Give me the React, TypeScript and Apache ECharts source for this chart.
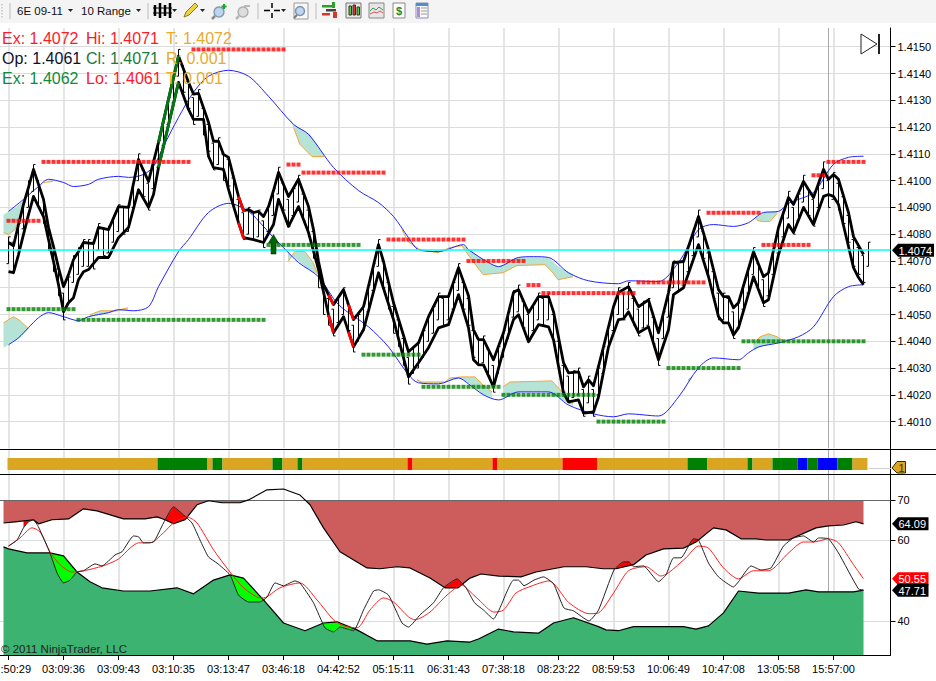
import React, { useEffect, useRef } from "react";
import * as echarts from "echarts";

type Pt = [number, number];

const timeLabels = [":50:29","03:09:36","03:09:43","03:10:35","03:13:47","03:46:18","04:42:52","05:15:11","06:31:43","07:38:18","08:23:22","08:59:53","10:06:49","10:47:08","13:05:58","15:57:00"];
const timeTicks = [0,11,22,33,44,55,66,77,88,99,110,121,132,143,154,165];
const priceTicks = [1.401,1.402,1.403,1.404,1.405,1.406,1.407,1.408,1.409,1.41,1.411,1.412,1.413,1.414,1.415];
const oscTicks = [40,60,70];
const lastPrice = 1.4074;
const cursorBar = 164;

const barHighs = [
1.4079,1.4077,1.4084,1.4092,1.4100,1.4106,1.4100,1.4094,1.4084,1.4076,
1.4067,1.4058,1.4064,1.4072,1.4075,1.4078,1.4078,1.4077,1.4084,1.4082,
1.4083,1.4087,1.4091,1.4090,1.4091,1.4100,1.4110,1.4104,1.4099,1.4107,
1.4115,1.4123,1.4131,1.4139,1.4149,1.4143,1.4137,1.4131,1.4134,1.4127,
1.4121,1.4114,1.4116,1.4110,1.4108,1.4101,1.4093,1.4088,1.4090,1.4088,
1.4089,1.4085,1.4091,1.4097,1.4105,1.4099,1.4093,1.4097,1.4102,1.4095,
1.4089,1.4081,1.4070,1.4060,1.4056,1.4052,1.4057,1.4060,1.4054,1.4046,
1.4050,1.4054,1.4061,1.4069,1.4078,1.4070,1.4062,1.4053,1.4048,1.4041,
1.4034,1.4038,1.4040,1.4044,1.4050,1.4053,1.4058,1.4056,1.4058,1.4062,
1.4069,1.4062,1.4056,1.4044,1.4041,1.4042,1.4037,1.4031,1.4038,1.4044,
1.4051,1.4059,1.4061,1.4055,1.4050,1.4054,1.4058,1.4056,1.4058,1.4050,
1.4040,1.4031,1.4027,1.4029,1.4030,1.4022,1.4027,1.4022,1.4030,1.4038,
1.4046,1.4054,1.4060,1.4058,1.4062,1.4056,1.4052,1.4055,1.4056,1.4049,
1.4041,1.4051,1.4059,1.4070,1.4069,1.4071,1.4076,1.4082,1.4089,1.4081,
1.4073,1.4066,1.4058,1.4058,1.4056,1.4051,1.4055,1.4062,1.4068,1.4075,
1.4069,1.4063,1.4067,1.4075,1.4083,1.4089,1.4096,1.4090,1.4095,1.4102,
1.4097,1.4093,1.4100,1.4107,1.4100,1.4103,1.4099,1.4094,1.4087,1.4078,
1.4075,1.4072,1.4077];
const barLows = [
1.4069,1.4067,1.4074,1.4082,1.4090,1.4096,1.4090,1.4084,1.4074,1.4066,
1.4057,1.4048,1.4054,1.4062,1.4065,1.4068,1.4068,1.4067,1.4074,1.4072,
1.4073,1.4077,1.4081,1.4080,1.4081,1.4090,1.4100,1.4094,1.4089,1.4097,
1.4105,1.4113,1.4121,1.4129,1.4139,1.4133,1.4127,1.4121,1.4124,1.4117,
1.4111,1.4104,1.4106,1.4100,1.4098,1.4091,1.4083,1.4078,1.4080,1.4078,
1.4079,1.4075,1.4081,1.4087,1.4095,1.4089,1.4083,1.4087,1.4092,1.4085,
1.4079,1.4071,1.4060,1.4050,1.4046,1.4042,1.4047,1.4050,1.4044,1.4036,
1.4040,1.4044,1.4051,1.4059,1.4068,1.4060,1.4052,1.4043,1.4038,1.4031,
1.4024,1.4028,1.4030,1.4034,1.4040,1.4043,1.4048,1.4046,1.4048,1.4052,
1.4059,1.4052,1.4046,1.4034,1.4031,1.4032,1.4027,1.4021,1.4028,1.4034,
1.4041,1.4049,1.4051,1.4045,1.4040,1.4044,1.4048,1.4046,1.4048,1.4040,
1.4030,1.4021,1.4017,1.4019,1.4020,1.4012,1.4017,1.4012,1.4020,1.4028,
1.4036,1.4044,1.4050,1.4048,1.4052,1.4046,1.4042,1.4045,1.4046,1.4039,
1.4031,1.4041,1.4049,1.4060,1.4059,1.4061,1.4066,1.4072,1.4079,1.4071,
1.4063,1.4056,1.4048,1.4048,1.4046,1.4041,1.4045,1.4052,1.4058,1.4065,
1.4059,1.4053,1.4057,1.4065,1.4073,1.4079,1.4086,1.4080,1.4085,1.4092,
1.4087,1.4083,1.4090,1.4097,1.4090,1.4093,1.4089,1.4084,1.4077,1.4068,
1.4065,1.4062,1.4068];

const upperEnvelope: Pt[] = [[0,1.40769],[1,1.40757],[2,1.40836],[3,1.40911],[4,1.40975],[5,1.41042],[6,1.40986],[7,1.4093],[8,1.40825],[9,1.40754],[10,1.40675],[11,1.40604],[12,1.40649],[13,1.40705],[14,1.40735],[15,1.40769],[17,1.40765],[18,1.40825],[20,1.40817],[22,1.40903],[24,1.409],[26,1.41079],[28,1.40997],[30,1.41143],[34,1.41465],[36,1.41367],[37,1.41323],[38,1.41326],[40,1.41218],[41,1.41147],[42,1.41147],[43,1.41098],[44,1.41087],[46,1.40941],[47,1.40888],[48,1.40892],[49,1.40881],[50,1.40885],[51,1.40866],[52,1.40903],[53,1.40963],[54,1.41031],[56,1.40941],[58,1.41005],[60,1.40903],[61,1.40817],[62,1.40698],[63,1.40611],[65,1.40537],[67,1.40593],[69,1.40481],[71,1.40529],[74,1.40761],[75,1.40698],[77,1.40544],[80,1.40361],[82,1.40394],[84,1.40492],[86,1.40567],[88,1.40567],[90,1.40675],[92,1.4057],[93,1.40443],[94,1.40406],[95,1.40406],[97,1.40331],[99,1.40432],[101,1.40582],[102,1.40593],[104,1.40507],[106,1.40567],[108,1.40567],[109,1.4051],[111,1.4032],[112,1.40282],[114,1.40286],[115,1.4023],[116,1.40256],[117,1.40234],[119,1.40379],[121,1.40529],[122,1.40582],[124,1.40604],[126,1.40529],[128,1.40555],[130,1.40432],[132,1.40582],[133,1.40694],[135,1.40698],[138,1.40866],[140,1.40742],[142,1.40593],[143,1.40567],[144,1.40567],[145,1.40525],[146,1.40544],[149,1.40735],[151,1.40641],[152,1.40656],[154,1.40825],[156,1.40937],[157,1.40911],[159,1.40997],[161,1.40937],[163,1.41042],[164,1.41005],[165,1.41023],[166,1.41005],[168,1.40881],[169,1.40791],[171,1.40724]];

const lowerEnvelope: Pt[] = [[0,1.4066],[1,1.40656],[2,1.40724],[3,1.40799],[4,1.40873],[5,1.40941],[6,1.40903],[7,1.40866],[8,1.4078],[9,1.40698],[10,1.40611],[11,1.4051],[12,1.40544],[13,1.40563],[14,1.4063],[15,1.4066],[16,1.40668],[18,1.40713],[20,1.40713],[22,1.40787],[24,1.40825],[26,1.40966],[28,1.409],[29,1.40948],[30,1.41049],[34,1.41367],[36,1.41266],[37,1.41229],[39,1.41229],[40,1.41091],[41,1.41049],[43,1.41042],[44,1.40967],[46,1.40843],[47,1.40787],[49,1.4078],[51,1.40769],[53,1.40836],[54,1.4093],[56,1.40829],[58,1.40903],[60,1.40806],[62,1.40668],[64,1.40499],[65,1.40432],[67,1.40492],[69,1.40379],[71,1.40443],[74,1.40656],[77,1.40481],[80,1.40267],[82,1.4032],[84,1.40376],[86,1.4045],[88,1.40462],[90,1.40574],[92,1.4045],[93,1.40331],[94,1.40312],[95,1.40312],[97,1.4023],[99,1.40368],[101,1.40481],[102,1.40499],[104,1.40398],[106,1.40462],[108,1.40454],[109,1.40406],[111,1.40207],[112,1.40174],[114,1.40181],[115,1.40132],[117,1.40136],[118,1.40192],[120,1.40379],[122,1.40481],[123,1.40484],[124,1.4051],[126,1.40432],[128,1.40454],[130,1.40331],[132,1.40443],[133,1.40574],[135,1.406],[138,1.40761],[140,1.40641],[142,1.40492],[143,1.40469],[144,1.40469],[145,1.40424],[146,1.4045],[149,1.40641],[151,1.40544],[152,1.40555],[154,1.40724],[156,1.40836],[157,1.40806],[159,1.409],[161,1.40836],[163,1.40941],[164,1.40948],[165,1.40941],[166,1.40911],[168,1.40754],[169,1.40675],[170,1.40638],[171,1.40611]];

const upperBlue: Pt[] = [[0,1.40885],[3,1.4093],[6,1.40978],[8,1.41005],[11,1.40993],[13,1.40978],[16,1.40986],[18,1.41005],[22,1.41016],[24,1.41012],[27,1.41023],[29,1.41053],[31,1.41128],[34,1.41236],[37,1.4133],[40,1.4139],[44,1.41412],[48,1.4139],[52,1.41315],[57,1.4121],[60,1.41173],[65,1.41049],[70,1.40963],[74,1.40918],[77,1.40866],[80,1.40787],[82,1.40742],[86,1.40735],[91,1.40761],[92,1.40742],[96,1.40694],[98,1.40679],[102,1.40713],[105,1.40716],[108,1.40713],[112,1.40656],[116,1.40626],[122,1.40615],[124,1.40626],[130,1.40623],[134,1.40694],[138,1.40817],[141,1.40836],[145,1.40829],[148,1.40843],[151,1.40881],[154,1.40885],[156,1.40915],[161,1.40956],[165,1.41061],[168,1.41087],[171,1.41091]];

const lowerBlue: Pt[] = [[0,1.40387],[2,1.40413],[4,1.40451],[6,1.40488],[8,1.40507],[11,1.40492],[14,1.40477],[16,1.40492],[20,1.40507],[22,1.40518],[25,1.40514],[28,1.40529],[30,1.40604],[34,1.40735],[36,1.4078],[40,1.40881],[44,1.40915],[48,1.40885],[51,1.40829],[53,1.40787],[55,1.4075],[58,1.40694],[62,1.40641],[66,1.40537],[72,1.40454],[76,1.40379],[80,1.40275],[82,1.40245],[86,1.40241],[90,1.40263],[92,1.40241],[95,1.402],[98,1.40181],[102,1.40211],[108,1.40211],[112,1.40162],[117,1.40129],[121,1.40118],[124,1.40129],[130,1.40121],[134,1.40192],[138,1.40301],[141,1.40338],[146,1.40331],[148,1.40357],[150,1.40379],[154,1.40394],[158,1.40417],[161,1.40454],[165,1.40567],[168,1.40604],[171,1.40611]];

// [first bar, last bar, price]
const resistanceLevels = [[37,55,1.4149],[7,36,1.4107],[0,6,1.4085],[56,58,1.4106],[59,75,1.4103],[76,91,1.4078],[92,103,1.407],[104,106,1.4061],[107,125,1.4058],[126,139,1.4062],[140,150,1.4088],[151,160,1.4076],[161,163,1.4102],[164,171,1.4107]];
const supportLevels = [[0,13,1.4052],[14,51,1.4048],[52,70,1.4076],[71,82,1.4035],[83,98,1.4023],[99,117,1.402],[118,131,1.401],[132,146,1.403],[147,171,1.404]];

const tealRegions: { orange: Pt[]; blue: Pt[] }[] = [
  { orange: [[-1,1.40806],[0,1.40799],[1.3,1.40817],[2.3,1.40866],[3,1.40922]], blue: [[3,1.40926],[1.6,1.40903],[0,1.40885],[-1,1.40873]] },
  { orange: [[7,1.40993],[8.9,1.40997]], blue: [[8.9,1.41005],[7,1.40989]] },
  { orange: [[57,1.41199],[58.3,1.41135],[60.7,1.4109],[63.1,1.4109]], blue: [[63.3,1.4109],[60.3,1.41173],[57,1.4121],[55.9,1.41248]] },
  { orange: [[55.9,1.40698],[57.3,1.40735],[59.3,1.40735],[60.9,1.40694],[61.9,1.40649]], blue: [[61.9,1.40649],[60,1.40668],[58.3,1.40694],[55.9,1.40731]] },
  { orange: [[-1,1.40469],[1,1.40492],[2.3,1.40477],[4,1.40447]], blue: [[4,1.40447],[2.3,1.40413],[0,1.40387],[-1,1.40376]] },
  { orange: [[16.3,1.40499],[18.3,1.40514],[21.3,1.40514],[23.9,1.40525]], blue: [[23.9,1.40518],[21.3,1.4051],[18.3,1.40499],[16.3,1.40492]] },
  { orange: [[81.7,1.40256],[82.7,1.40248],[87.3,1.40248],[88.3,1.40263],[90.7,1.40267],[93.3,1.40267],[94.9,1.40237],[96.7,1.40211]], blue: [[96.7,1.40189],[94.9,1.402],[92.3,1.40241],[90.3,1.40263],[85.7,1.40241],[82.3,1.40245],[81.7,1.40252]] },
  { orange: [[98.9,1.4023],[100.3,1.40248],[108.7,1.40252],[110.3,1.40219],[111.7,1.40189],[112.9,1.4017]], blue: [[112.9,1.40159],[107.7,1.40211],[102.3,1.40211],[98.9,1.40185]] },
  { orange: [[135.9,1.40256],[136.7,1.40267]], blue: [[136.7,1.40263],[135.9,1.40245]] },
  { orange: [[149,1.40387],[150.3,1.40417],[152,1.40428],[153.7,1.40417],[155,1.40402]], blue: [[155,1.40402],[153.7,1.40394],[150.3,1.40379],[149,1.40365]] },
  { orange: [[149.7,1.40851],[151,1.40847],[152.3,1.40847],[153.7,1.40877]], blue: [[153.7,1.40885],[151,1.40881],[149,1.40859]] },
  { orange: [[78.7,1.40817],[79.9,1.40772],[82.3,1.40742],[85.9,1.40731],[88.3,1.4075],[90.7,1.40757],[92.3,1.40713],[94.9,1.40649],[98.9,1.40656],[101.7,1.40683],[107.3,1.40686],[108.7,1.4066],[109.9,1.4063],[112.9,1.40641]], blue: [[112.9,1.40649],[109.9,1.40679],[108,1.40713],[101.7,1.40713],[98,1.40679],[95.7,1.40694],[92.3,1.40742],[90.7,1.40761],[85.7,1.40735],[82.3,1.40742],[79.9,1.4078],[78.7,1.40817]] },
];

// [first bar, bar count, state]
const trendRuns: [number, number, string][] = [[0,30,"gold"],[30,10,"green"],[40,1,"gold"],[41,2,"green"],[43,10,"gold"],[53,2,"green"],[55,3,"gold"],[58,1,"green"],[59,21,"gold"],[80,1,"red"],[81,16,"gold"],[97,1,"red"],[98,13,"gold"],[111,7,"red"],[118,18,"gold"],[136,4,"green"],[140,8,"gold"],[148,1,"green"],[149,4,"gold"],[153,5,"green"],[158,2,"blue"],[160,2,"green"],[162,4,"blue"],[166,3,"green"],[169,3,"gold"]];
const trendColors: Record<string, string> = { gold: "#daa520", green: "#008000", red: "#ff0000", blue: "#0000ff" };

const upperBand: Pt[] = [[-1,64.3],[1.3,64.6],[5,65.1],[6,64.1],[8.7,65.1],[12,65.3],[15,67.8],[17.7,67.3],[23,65.3],[27.3,65.3],[29.7,65.8],[31.3,65.1],[33,64.1],[35.3,65.1],[37.7,68.8],[40,69.8],[42.7,69.3],[46.3,69.3],[48,70],[51.7,72.5],[55,72.7],[58.3,71.2],[59.3,70],[60.3,68.8],[63,63.1],[66.3,57.2],[71.7,53.2],[74.3,53],[77.7,53.5],[80.3,53.2],[84.3,50.7],[87.3,48.3],[89.9,48.3],[92.3,50.7],[94.5,51.7],[98.1,51.2],[102.5,51],[105.5,52.2],[111.1,53.5],[115.5,53.5],[118.9,53],[121.5,53],[125,54],[127.5,56.4],[131,57.9],[135,58.1],[137.5,59.6],[141,63.1],[143.5,62.6],[146.5,60.4],[149.5,60.4],[151.5,60.1],[156,60.1],[161.5,63.1],[164,63.6],[167,63.8],[169.5,64.6],[171,64.09]];

const lowerBand: Pt[] = [[-1,58.4],[0,57.9],[3.7,56.9],[8.3,56.9],[11,56.2],[13.7,52.2],[16.3,49.8],[18.7,48.3],[23,47.5],[28.3,47.5],[33.7,48.3],[37,46.8],[41,50.2],[44.3,51.5],[47,50.7],[51,45.3],[55,39.6],[59.3,37.7],[63,39.6],[65.7,39.9],[69.7,37.9],[73.7,35.2],[80.3,35.2],[83.7,34.4],[87.7,35.2],[92.3,34.9],[94.1,35.7],[98,38.1],[101,37.4],[106,37.1],[109,39.6],[113,40.9],[118,38.7],[119.5,37.9],[122,37.7],[125,38.7],[129,38.7],[135,38.7],[137.5,38.1],[140,38.9],[143,42.1],[146,47.5],[150,47],[156,47],[159.5,47.8],[162,47.3],[169,47.3],[171,47.71]];

const oscLine: Pt[] = [[0,58.6],[1.7,60.1],[3,63.1],[4,64.6],[5,65.1],[6,63.3],[8.3,56.9],[9.7,52],[11,49.5],[12.3,50.2],[13.7,52.2],[15,52.5],[17.3,54.2],[18.7,53.7],[21.3,56.4],[22.7,57.2],[25,61.1],[26,60.9],[27,59.4],[29,59.6],[31,64.3],[33,68.3],[35,66.3],[36.7,64.3],[38.3,60.1],[40,55.9],[41.7,54.4],[44.3,51.5],[46,46.5],[48,44.8],[50.3,44.8],[51.7,46],[53.3,49.5],[55,48.8],[57.3,50],[58.3,49.5],[61,44.6],[63.3,38.4],[65,37.4],[66.3,38.6],[69,37.7],[71,42.8],[73,47.5],[74,47.8],[76,46.5],[78.7,39.6],[80,38.6],[82.3,41.6],[85,44.6],[87,48.3],[89.7,50.5],[91.5,48.3],[93.2,44.6],[95,42.8],[97,40.6],[98.1,42.8],[101,50.2],[102,50.2],[103.1,48.8],[105.1,50.2],[107,51],[109,49.3],[111.1,43.3],[113,42.6],[116.1,40.1],[118,42.8],[121.1,52.7],[123,54.7],[124.1,54.7],[125,53.5],[127,53.7],[130,49.8],[131.5,51.5],[133,55.7],[134.5,55.7],[137,60.4],[138,60.1],[140,54.4],[142,51],[145,48.5],[146,49.8],[148.5,53.7],[150.5,52.7],[152.5,53.2],[155,58.6],[157,60.6],[159,61.1],[161,59.6],[162,60.6],[164,60.4],[166,56.9],[170,48],[171,47.71]];

const signalLine: Pt[] = [[0,58.6],[2.3,60.6],[4.7,63.1],[6.3,62.1],[8.3,57.2],[10.3,54],[12.7,52.2],[15,52.5],[18.9,53.7],[22,55.4],[24.3,58.1],[26,59.4],[28.3,59.4],[31,61.9],[33,64.3],[35.7,65.8],[37.7,64.3],[41,57.7],[44.3,52.2],[47,48.3],[49.7,46],[51,45.8],[54.3,48.3],[58.3,49.5],[61.7,45.3],[65,40.4],[67,38.9],[69.7,38.4],[72.3,42.8],[75,45.8],[77,44.8],[80,41.1],[81.3,40.4],[84.3,42.3],[87.7,46.5],[90.7,49],[91.5,48.3],[94.1,45.3],[97.1,42.3],[99,42.8],[101.5,47],[104.1,48.5],[108.1,50],[112.1,44.6],[116.1,41.9],[118,42.1],[121,47],[124,52.5],[127.5,53.5],[130.5,51.2],[132,52],[135.5,55.7],[138,58.6],[140,58.1],[143,53.2],[146,50.5],[149,52.5],[152,52.5],[156,56.9],[159,59.6],[161,59.6],[164,60.4],[166,59.4],[169,54],[171,50.55]];

const belowBandRuns: Pt[] = [[8.3,13.7],[44.3,51.3],[63,68.5]];
const aboveBandRuns: Pt[] = [[3,5.5],[31.3,35.3],[87.3,91],[121.5,124.5],[136.5,138]];

const priceTags: [number, string, string][] = [[1.4074, "1.4074", "#000000"]];
const oscTags: [number, string, string][] = [[64.09, "64.09", "#000000"], [50.55, "50.55", "#ff0000"], [47.71, "47.71", "#000000"]];

const headerRows: [string, string, string, string, string, string][] = [
  ["Ex: 1.4072", "#ff1a2a", "Hi: 1.4071", "#ff1a2a", "T: 1.4072", "#e8ab2e"],
  ["Op: 1.4061", "#101028", "Cl: 1.4071", "#187a3a", "R: 0.001", "#e8ab2e"],
  ["Ex: 1.4062", "#0f8a3c", "Lo: 1.4061", "#ff1a2a", "T: 0.001", "#e8ab2e"],
];

const FONT = '"Liberation Sans", Arial, sans-serif';
const X_MIN = -1.7;
const X_MAX = 176.4;
const GRID = "#dcdcdc";

function valueAt(list: Pt[], k: number): number {
  for (let i = 1; i < list.length; i++) {
    if (k <= list[i][0]) {
      const [a, av] = list[i - 1];
      const [b, bv] = list[i];
      return av + ((bv - av) * (k - a)) / (b - a);
    }
  }
  return list[list.length - 1][1];
}
function slice(list: Pt[], k0: number, k1: number): Pt[] {
  return [[k0, valueAt(list, k0)], ...list.filter((p) => p[0] > k0 && p[0] < k1), [k1, valueAt(list, k1)]] as Pt[];
}

const ohlcData = barHighs.map((h, i) => {
  const l = barLows[i];
  const rising = i === 0 || h >= barHighs[i - 1];
  return [i, rising ? l : h, rising ? h : l, l, h];
});
const levelPoints = (levels: number[][]) => {
  const out: Pt[] = [];
  levels.forEach(([a, b, p]) => {
    for (let k = a; k <= b; k++) out.push([k, p]);
  });
  return out;
};

function renderOhlc(_: any, api: any) {
  const k = api.value(0);
  const o = api.coord([k, api.value(1)]);
  const c = api.coord([k, api.value(2)]);
  const l = api.coord([k, api.value(3)]);
  const h = api.coord([k, api.value(4)]);
  const style = { stroke: "#000", lineWidth: 1 };
  return {
    type: "group",
    children: [
      { type: "line", shape: { x1: h[0], y1: h[1], x2: l[0], y2: l[1] }, style },
      { type: "line", shape: { x1: o[0] - 2, y1: o[1], x2: o[0], y2: o[1] }, style },
      { type: "line", shape: { x1: c[0], y1: c[1], x2: c[0] + 2, y2: c[1] }, style },
    ],
  };
}
function renderTeal(p: any, api: any) {
  const r = tealRegions[p.dataIndex];
  const orange = r.orange.map((q) => api.coord(q));
  const blue = r.blue.map((q) => api.coord(q));
  return {
    type: "group",
    children: [
      { type: "polygon", shape: { points: [...orange, ...blue] }, style: { fill: "#b5e4d7" } },
      { type: "polyline", shape: { points: orange }, style: { stroke: "#f5a53c", lineWidth: 1, fill: "none" } },
    ],
  };
}
function renderTag(list: [number, string, string][]) {
  return (p: any, api: any) => {
    const [v, text, fill] = list[p.dataIndex];
    const [x, y] = api.coord([X_MAX, v]);
    const big = text.length > 5;
    const tip = x + 1.5;
    const right = big ? x + 43.5 : x + 38;
    return {
      type: "group",
      children: [
        { type: "polygon", shape: { points: [[tip, y], [tip + 6, y - 6.5], [right, y - 6.5], [right, y + 6.5], [tip + 6, y + 6.5]] }, style: { fill } },
        { type: "text", style: { text, x: tip + 6.5, y: y + 0.5, fill: "#fff", font: `11px ${FONT}`, textVerticalAlign: "middle" } },
      ],
    };
  };
}
function renderTrend(_: any, api: any) {
  const s = api.value(0);
  const n = api.value(1);
  const a = api.coord([s - 0.2, 0.64]);
  const b = api.coord([s + n - 0.2, 0.16]);
  return { type: "rect", shape: { x: a[0], y: a[1], width: b[0] - a[0], height: b[1] - a[1] }, style: { fill: trendColors[trendRuns[_.dataIndex][2]] } };
}
function renderBright(runs: Pt[], fill: string, above: boolean) {
  return (p: any, api: any) => {
    const [a, b] = runs[p.dataIndex];
    const band = slice(above ? upperBand : lowerBand, a, b);
    const osc = slice(oscLine, a, b).reverse();
    return { type: "polygon", shape: { points: [...band, ...osc].map((q) => api.coord(q)) }, style: { fill } };
  };
}
function renderArrow(_: any, api: any) {
  const [x, y] = api.coord([api.value(0), api.value(1)]);
  return {
    type: "polygon",
    shape: { points: [[x - 2.5, y], [x - 2.5, y - 11], [x - 5, y - 11], [x, y - 19.5], [x + 5, y - 11], [x + 2.5, y - 11], [x + 2.5, y]] },
    style: { fill: "#006400", stroke: "#003000", lineWidth: 0.6 },
  };
}
function renderStripTag(_: any, api: any) {
  const [x, y] = api.coord([X_MAX, 0.22]);
  return {
    type: "group",
    children: [
      { type: "line", shape: { x1: api.coord([172, 0])[0], y1: y, x2: x + 1, y2: y }, style: { stroke: "#cfcfcf", lineWidth: 1 } },
      { type: "polygon", shape: { points: [[x + 1.5, y - 0.5], [x + 6.5, y - 7], [x + 15, y - 7], [x + 15, y + 4.5], [x + 6.5, y + 4.5]] }, style: { fill: "#daa520", stroke: "#3a2a00", lineWidth: 1 } },
      { type: "text", style: { text: "1", x: x + 8, y: y - 1, fill: "#5a2000", font: `11px ${FONT}`, textVerticalAlign: "middle" } },
    ],
  };
}

const xAxisBase = (gridIndex: number, labels: boolean) => ({
  type: "value",
  gridIndex,
  min: X_MIN,
  max: X_MAX,
  axisLine: { show: labels, onZero: false, lineStyle: { color: "#000" } },
  axisTick: { show: labels, length: 5, customValues: timeTicks, lineStyle: { color: "#000" } },
  splitLine: { show: true, lineStyle: { color: GRID, width: 1.5 } },
  axisLabel: {
    show: labels,
    // the first label sits against the page edge and is drawn as left-aligned text below
    customValues: timeTicks.slice(1),
    fontFamily: FONT,
    fontSize: 11,
    color: "#000",
    margin: 8,
    formatter: (v: number) => timeLabels[timeTicks.indexOf(v)] ?? "",
  },
});

const thick = (data: Pt[], color = "#000", z = 5) => ({
  type: "line", xAxisIndex: 0, yAxisIndex: 0, data, symbol: "none", z,
  lineStyle: { color, width: 2.8, join: "round" }, silent: true,
});
const thin = (data: Pt[], color: string, z: number, smooth: number | boolean = 0.25, width = 1) => ({
  type: "line", xAxisIndex: 2, yAxisIndex: 2, data, symbol: "none", z, smooth,
  lineStyle: { color, width }, silent: true,
});
const cursor = (xAxisIndex: number) => ({
  type: "line", xAxisIndex, yAxisIndex: xAxisIndex, data: [], z: 1,
  markLine: { silent: true, symbol: "none", z: 1, label: { show: false }, lineStyle: { color: "#a8a8a8", width: 1, type: "solid" }, data: [{ xAxis: cursorBar }] },
});

function toolbar(): any[] {
  const els: any[] = [];
  const rect = (x: number, y: number, w: number, h: number, fill: string, stroke?: string) =>
    els.push({ type: "rect", shape: { x, y, width: w, height: h }, style: { fill, stroke, lineWidth: stroke ? 1 : 0 }, z: 200 });
  const line = (x1: number, y1: number, x2: number, y2: number, stroke: string, lineWidth = 1) =>
    els.push({ type: "line", shape: { x1, y1, x2, y2 }, style: { stroke, lineWidth }, z: 200 });
  const poly = (points: number[][], fill: string, stroke?: string) =>
    els.push({ type: "polygon", shape: { points }, style: { fill, stroke, lineWidth: stroke ? 1 : 0 }, z: 200 });
  const circle = (cx: number, cy: number, r: number, fill: string, stroke?: string, lw = 1.5) =>
    els.push({ type: "circle", shape: { cx, cy, r }, style: { fill, stroke, lineWidth: lw }, z: 200 });
  const caret = (x: number) => poly([[x, 9], [x + 5, 9], [x + 2.5, 12]], "#222");
  const text = (x: number, t: string) =>
    els.push({ type: "text", style: { text: t, x, y: 10.5, fill: "#111", font: `11.5px ${FONT}`, textVerticalAlign: "middle" }, z: 201 });

  rect(0, 0, 936, 23, "#f4f4f4");
  for (let y = 4; y < 18; y += 3) rect(1.5, y, 1, 1.5, "#b0b0b0");
  [10, 148, 258, 316].forEach((x) => line(x, 3, x, 19, "#bdbdbd"));
  text(17, "6E 09-11");
  caret(68);
  text(81, "10 Range");
  caret(136);
  // chart style
  [155, 160, 165, 170].forEach((x, i) => line(x, i % 2 ? 3 : 5, x, i % 2 ? 18 : 16, "#000", 2.5));
  line(153, 8, 172, 8, "#000", 1);
  line(153, 13, 172, 13, "#000", 1);
  caret(172);
  // pencil
  poly([[184, 17], [186, 12], [195, 3], [198, 6], [189, 15]], "#f2d23c", "#8a7a20");
  caret(200);
  // zoom in / out
  circle(219, 12, 5, "#bcd6f0", "#8a9aaa");
  line(215, 16, 212, 19, "#8a8a8a", 2.5);
  line(224, 4, 224, 9, "#19a531", 2);
  line(221.5, 6.5, 226.5, 6.5, "#19a531", 2);
  circle(243, 12, 5, "#dcdcdc", "#b0b0b0");
  line(239, 16, 236, 19, "#b8b8b8", 2.5);
  line(244, 6, 250, 6, "#b8b8b8", 2);
  // crosshair
  line(264, 10.5, 270, 10.5, "#000", 1.5);
  line(274, 10.5, 280, 10.5, "#000", 1.5);
  line(272, 3, 272, 8, "#000", 1.5);
  line(272, 13, 272, 18, "#000", 1.5);
  caret(281);
  // zoom box
  rect(294, 3, 14, 16, "#f8f8f8", "#9a9a9a");
  circle(300, 11, 4.5, "#bcd6f0", "#7f94aa");
  line(297, 15, 294, 18, "#7a7a7a", 2);
  // indicators
  rect(322, 5, 12, 2.5, "#2aa02a");
  rect(326, 9, 10, 2.5, "#444");
  rect(322, 13, 8, 2.5, "#d8382c");
  rect(332, 2, 3, 6, "#2aa02a");
  rect(333, 12, 4, 6, "#d8382c");
  rect(346, 3, 15, 15, "#e8e8e8", "#777");
  rect(349, 6, 2.5, 9, "#63c33a", "#333");
  rect(353, 5, 2.5, 10, "#d83a30", "#333");
  rect(357, 7, 2.5, 8, "#63c33a", "#333");
  rect(369, 3, 15, 15, "#e6e6e6", "#888");
  els.push({ type: "polyline", shape: { points: [[370, 11], [373, 8], [376, 10], [379, 7], [383, 10]] }, style: { stroke: "#3c9a50", fill: "none", lineWidth: 1 }, z: 200 });
  els.push({ type: "polyline", shape: { points: [[370, 14], [374, 12], [377, 13], [380, 11], [383, 13]] }, style: { stroke: "#d85050", fill: "none", lineWidth: 1 }, z: 200 });
  rect(393, 3, 12, 15, "#fbfbfb", "#8a8a8a");
  els.push({ type: "text", style: { text: "$", x: 396, y: 11, fill: "#1f8a2a", font: `bold 11px ${FONT}`, textVerticalAlign: "middle" }, z: 201 });
  rect(416, 3, 12, 15, "#fafafa", "#8a90b0");
  rect(416, 3, 12, 3, "#4a90d0");
  rect(417, 7, 3, 10, "#b48ad8");
  [8, 11, 14].forEach((y) => line(421, y, 427, y, "#9a9a9a"));

  // panel separators
  line(0, 449.5, 936, 449.5, "#000");
  line(0, 474.5, 936, 474.5, "#000");
  // go-to-end button
  poly([[861, 34], [861, 54], [877, 44]], "#ffffff", "#222");
  rect(878, 34, 2, 20, "#222");

  headerRows.forEach((row, i) => {
    const y = 38 + i * 20;
    [[2, row[0], row[1]], [86, row[2], row[3]], [166, row[4], row[5]]].forEach(([x, t, c]: any) =>
      els.push({ type: "text", style: { text: t, x, y, fill: c, font: `16px ${FONT}`, textVerticalAlign: "middle" }, z: 150 })
    );
  });
  els.push({ type: "text", style: { text: "© 2011 NinjaTrader, LLC", x: 1, y: 649, fill: "#222", font: `11.5px ${FONT}`, textVerticalAlign: "middle" }, z: 150 });
  els.push({ type: "text", style: { text: timeLabels[0], x: 0.5, y: 668.5, fill: "#000", font: `11px ${FONT}`, textVerticalAlign: "middle" }, z: 150 });
  return els;
}

export default function App() {
  const ref = useRef<HTMLDivElement>(null);
  useEffect(() => {
    if (!ref.current) return;
    const chart = echarts.init(ref.current, undefined, { renderer: "svg" });
    const redEdge = upperBand.map(([k, v]) => [k, Math.min(v, 70)] as Pt);
    const colored = (list: Pt[], a: number, b: number, color: string) => thick(slice(list, a, b), color, 6);
    chart.setOption({
      animation: false,
      backgroundColor: "#fff",
      grid: [
        { left: 0, width: 890.5, top: 28, height: 420.4, outerBoundsMode: "none" },
        { left: 0, width: 890.5, top: 449, height: 25, outerBoundsMode: "none" },
        { left: 0, width: 890.5, top: 474, height: 181, outerBoundsMode: "none" },
      ],
      xAxis: [xAxisBase(0, false), xAxisBase(1, false), xAxisBase(2, true)],
      yAxis: [
        {
          type: "value", gridIndex: 0, position: "right", min: 1.4, max: 1.4157, scale: true,
          axisLine: { show: true, onZero: false, lineStyle: { color: "#000" } },
          axisTick: { show: true, length: 5, customValues: priceTicks, lineStyle: { color: "#000" } },
          splitLine: { show: true, lineStyle: { color: GRID, width: 1 } },
          axisLabel: { customValues: priceTicks, fontFamily: FONT, fontSize: 11, color: "#000", margin: 7, formatter: (v: number) => v.toFixed(4) },
        },
        {
          type: "value", gridIndex: 1, position: "right", min: 0, max: 1,
          axisLine: { show: true, onZero: false, lineStyle: { color: "#000" } },
          axisTick: { show: false }, axisLabel: { show: false }, splitLine: { show: false },
        },
        {
          type: "value", gridIndex: 2, position: "right", min: 31.7, max: 76.4, scale: true,
          axisLine: { show: true, onZero: false, lineStyle: { color: "#000" } },
          axisTick: { show: true, length: 5, customValues: oscTicks, lineStyle: { color: "#000" } },
          splitLine: { show: true, lineStyle: { color: GRID, width: 1 } },
          axisLabel: { customValues: oscTicks, fontFamily: FONT, fontSize: 11, color: "#000", margin: 7 },
        },
      ],
      graphic: { elements: toolbar() },
      series: [
        cursor(0), cursor(1), cursor(2),
        // price panel
        { type: "custom", xAxisIndex: 0, yAxisIndex: 0, renderItem: renderTeal, data: tealRegions.map((_, i) => [i, 0]), z: 2, silent: true },
        { type: "line", xAxisIndex: 0, yAxisIndex: 0, data: upperBlue, symbol: "none", smooth: 0.3, z: 3, lineStyle: { color: "#2222ff", width: 1 }, silent: true },
        { type: "line", xAxisIndex: 0, yAxisIndex: 0, data: lowerBlue, symbol: "none", smooth: 0.3, z: 3, lineStyle: { color: "#2222ff", width: 1 }, silent: true },
        { type: "custom", xAxisIndex: 0, yAxisIndex: 0, renderItem: renderOhlc, data: ohlcData, z: 4, silent: true, encode: { x: 0, y: [1, 2, 3, 4] } },
        thick(upperEnvelope),
        thick(lowerEnvelope),
        colored(upperEnvelope, 30, 34, "#007a10"),
        colored(lowerEnvelope, 30, 34, "#007a10"),
        colored(upperEnvelope, 46, 47.3, "#ff0000"),
        colored(lowerEnvelope, 46, 47.3, "#ff0000"),
        colored(upperEnvelope, 64, 65, "#ff0000"),
        colored(lowerEnvelope, 64, 65, "#ff0000"),
        colored(upperEnvelope, 68, 69, "#ff0000"),
        colored(lowerEnvelope, 68, 69, "#ff0000"),
        { type: "scatter", xAxisIndex: 0, yAxisIndex: 0, data: levelPoints(resistanceLevels), symbol: "rect", symbolSize: [4, 4], itemStyle: { color: "#ff0000" }, z: 7, silent: true },
        { type: "scatter", xAxisIndex: 0, yAxisIndex: 0, data: levelPoints(supportLevels), symbol: "rect", symbolSize: [4, 4], itemStyle: { color: "#008000" }, z: 7, silent: true },
        {
          type: "line", xAxisIndex: 0, yAxisIndex: 0, data: [], z: 8,
          markLine: { silent: true, symbol: "none", z: 8, precision: 5, label: { show: false }, lineStyle: { color: "#00ffff", width: 1.5, type: "solid" }, data: [{ yAxis: lastPrice }] },
        },
        { type: "custom", xAxisIndex: 0, yAxisIndex: 0, renderItem: renderArrow, data: [[53, 1.40726]], z: 9, silent: true },
        { type: "custom", xAxisIndex: 0, yAxisIndex: 0, renderItem: renderTag(priceTags), data: priceTags.map((t) => [X_MAX, t[0]]), z: 20, silent: true },
        // trend strip
        { type: "custom", xAxisIndex: 1, yAxisIndex: 1, renderItem: renderTrend, data: trendRuns.map((r) => [r[0], r[1]]), z: 3, silent: true },
        { type: "custom", xAxisIndex: 1, yAxisIndex: 1, renderItem: renderStripTag, data: [[X_MAX, 0.22]], z: 20, silent: true },
        // oscillator panel
        { type: "line", xAxisIndex: 2, yAxisIndex: 2, data: redEdge, symbol: "none", lineStyle: { width: 0 }, areaStyle: { color: "#cd5c5c", origin: 70, opacity: 1 }, z: 2, silent: true },
        { type: "line", xAxisIndex: 2, yAxisIndex: 2, data: lowerBand, symbol: "none", lineStyle: { width: 0 }, areaStyle: { color: "#3cb371", origin: "start", opacity: 1 }, z: 2, silent: true },
        {
          type: "line", xAxisIndex: 2, yAxisIndex: 2, data: [], z: 3,
          markLine: { silent: true, symbol: "none", z: 3, label: { show: false }, lineStyle: { color: "#666", width: 1, type: "solid" }, data: [{ yAxis: 70 }] },
        },
        { type: "custom", xAxisIndex: 2, yAxisIndex: 2, renderItem: renderBright(belowBandRuns, "#00ff00", false), data: belowBandRuns.map((_, i) => [i, 0]), z: 4, silent: true },
        { type: "custom", xAxisIndex: 2, yAxisIndex: 2, renderItem: renderBright(aboveBandRuns, "#ff0000", true), data: aboveBandRuns.map((_, i) => [i, 0]), z: 4, silent: true },
        thin(upperBand, "#000", 5, false, 1.2),
        thin(lowerBand, "#000", 5, false, 1.2),
        thin(signalLine, "#ff2020", 6),
        thin(oscLine, "#222", 7, 0.15),
        { type: "custom", xAxisIndex: 2, yAxisIndex: 2, renderItem: renderTag(oscTags), data: oscTags.map((t) => [X_MAX, t[0]]), z: 20, silent: true },
      ],
    });
    return () => chart.dispose();
  }, []);
  return <div ref={ref} style={{ position: "fixed", left: 0, top: 0, width: 936, height: 681, background: "#fff" }} />;
}
